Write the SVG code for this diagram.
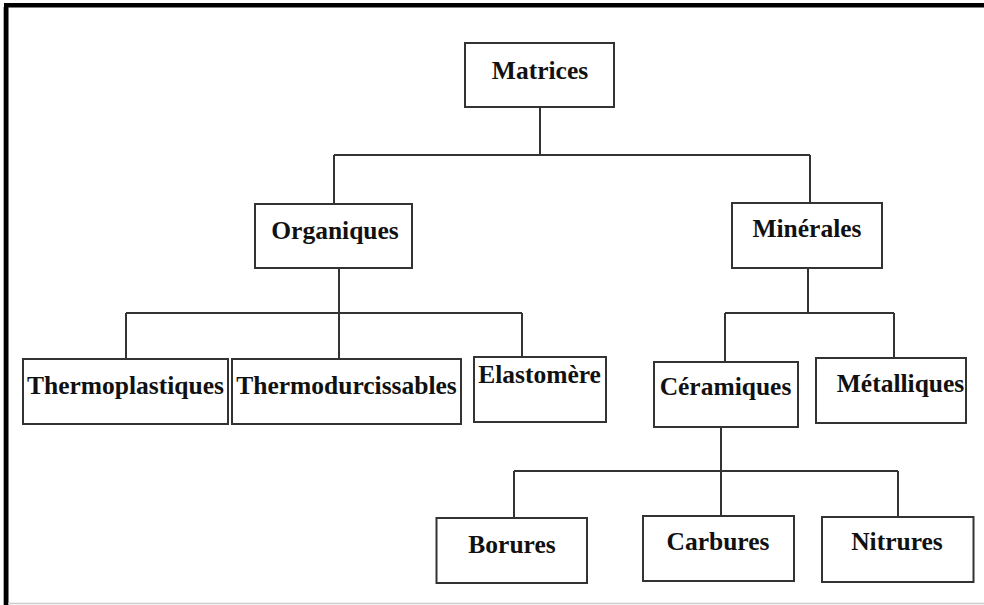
<svg xmlns="http://www.w3.org/2000/svg" width="984" height="605" viewBox="0 0 984 605">
<style>
.box{fill:#fff;stroke:#333;stroke-width:2}
.lbl{font-family:"Liberation Serif","Times New Roman",serif;font-weight:bold;font-size:25.5px;fill:#111;text-anchor:middle}
.con{fill:none;stroke:#333;stroke-width:2}
</style>
<rect x="0" y="0" width="984" height="605" fill="#fff"/>
<rect x="4" y="3" width="980" height="4.5" fill="#000"/>
<rect x="4" y="3" width="4.5" height="602" fill="#000"/>
<line x1="3.5" y1="7" x2="3.5" y2="605" stroke="#aaa" stroke-width="1"/>
<line x1="8" y1="603.5" x2="984" y2="603.5" stroke="#ccc" stroke-width="1.5"/>
<g id="connectors">
<path class="con" d="M540,107 V155 M334,155 H810 M334,155 V204 M810,155 V203"/>
<path class="con" d="M339,268 V313 M126,313 H522 M126,313 V359 M339,313 V359 M522,313 V357"/>
<path class="con" d="M808,268 V313 M725,313 H894 M725,313 V362 M894,313 V358"/>
<path class="con" d="M721,427 V471 M514,471 H898 M514,471 V518 M721,471 V516 M898,471 V517"/>
</g>
<g id="matrices"><rect class="box" x="465" y="43" width="149" height="64"/><text class="lbl" x="540" y="79">Matrices</text></g>
<g id="organiques"><rect class="box" x="255" y="204" width="157" height="64"/><text class="lbl" x="335" y="239">Organiques</text></g>
<g id="minerales"><rect class="box" x="732" y="203" width="150" height="65"/><text class="lbl" x="807" y="237">Minérales</text></g>
<g id="thermoplastiques"><rect class="box" x="23" y="359" width="205" height="65"/><text class="lbl" x="125.5" y="394">Thermoplastiques</text></g>
<g id="thermodurcissables"><rect class="box" x="232" y="359" width="229" height="65"/><text class="lbl" x="346.5" y="394">Thermodurcissables</text></g>
<g id="elastomere"><rect class="box" x="474" y="357" width="132" height="65"/><text class="lbl" x="539.5" y="383">Elastomère</text></g>
<g id="ceramiques"><rect class="box" x="654" y="362" width="144" height="65"/><text class="lbl" x="725.5" y="395">Céramiques</text></g>
<g id="metalliques"><rect class="box" x="816" y="358" width="150" height="65"/><text class="lbl" x="900.5" y="392">Métalliques</text></g>
<g id="borures"><rect class="box" x="436.5" y="518" width="150.5" height="65"/><text class="lbl" x="512" y="553">Borures</text></g>
<g id="carbures"><rect class="box" x="643" y="516" width="151" height="65"/><text class="lbl" x="718" y="550">Carbures</text></g>
<g id="nitrures"><rect class="box" x="822" y="517" width="151.5" height="65"/><text class="lbl" x="897" y="550">Nitrures</text></g>
</svg>
